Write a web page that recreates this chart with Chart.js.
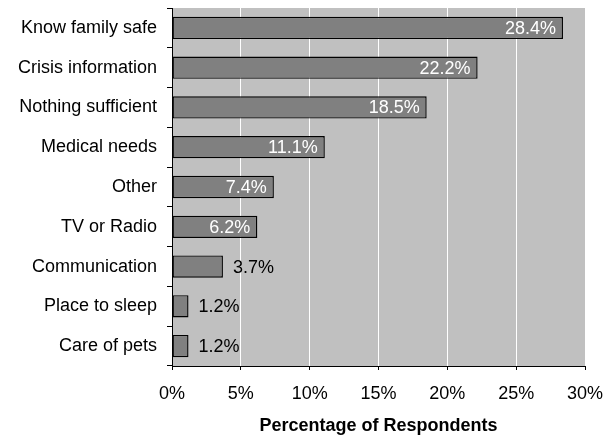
<!DOCTYPE html>
<html>
<head>
<meta charset="utf-8">
<script src="https://cdn.jsdelivr.net/npm/chart.js@4"></script>
<style>
  html, body { margin: 0; padding: 0; background: #fff; }
  #wrap { width: 603px; height: 437px; }
</style>
</head>
<body>
<div id="wrap"><canvas id="c" width="603" height="437"></canvas></div>
<script>
// Responses, largest first
const categories = [
  'Know family safe', 'Crisis information', 'Nothing sufficient',
  'Medical needs', 'Other', 'TV or Radio',
  'Communication', 'Place to sleep', 'Care of pets'
];
const percentages = [28.4, 22.2, 18.5, 11.1, 7.4, 6.2, 3.7, 1.2, 1.2];
const axisMin = 0;
const axisMax = 30;
const axisStep = 5;
const axisTitle = 'Percentage of Respondents';

const FONT = '"Liberation Sans", Arial, sans-serif';
const SIZE = 18;

// Grey plot area behind bars and gridlines
const plotBackground = {
  id: 'plotBackground',
  beforeDraw(chart) {
    const { ctx, chartArea: a } = chart;
    ctx.save();
    ctx.fillStyle = '#C0C0C0';
    ctx.fillRect(a.left, a.top, a.right - a.left, a.bottom - a.top);
    ctx.restore();
  }
};

// Value labels: white inside the bar when it fits, black just past the end otherwise
const valueLabels = {
  id: 'valueLabels',
  afterDatasetsDraw(chart) {
    const { ctx } = chart;
    const meta = chart.getDatasetMeta(0);
    const values = chart.data.datasets[0].data;
    ctx.save();
    ctx.font = SIZE + 'px ' + FONT;
    ctx.textBaseline = 'middle';
    meta.data.forEach((bar, i) => {
      const text = values[i].toFixed(1) + '%';
      const w = ctx.measureText(text).width;
      const barLen = bar.x - bar.base;
      if (barLen > w + 16) {
        ctx.fillStyle = '#fff';
        ctx.textAlign = 'right';
        ctx.fillText(text, bar.x - 7, bar.y + 1);
      } else {
        ctx.fillStyle = '#000';
        ctx.textAlign = 'left';
        ctx.fillText(text, bar.x + 10, bar.y + 1);
      }
    });
    ctx.restore();
  }
};

new Chart(document.getElementById('c'), {
  type: 'bar',
  data: {
    labels: categories,
    datasets: [{
      data: percentages,
      backgroundColor: '#808080',
      borderColor: '#000',
      borderWidth: 1.4,
      borderSkipped: false,
      barPercentage: 0.56,
      categoryPercentage: 1
    }]
  },
  options: {
    indexAxis: 'y',
    responsive: false,
    animation: false,
    devicePixelRatio: 1,
    layout: { padding: { top: 8, right: 18, bottom: 0, left: 0 } },
    plugins: {
      legend: { display: false },
      tooltip: { enabled: false }
    },
    scales: {
      x: {
        min: axisMin,
        max: axisMax,
        afterFit(scale) {
          scale.height = 71;
          scale.paddingLeft = 0;
          scale.paddingRight = 0;
        },
        ticks: {
          stepSize: axisStep,
          color: '#000',
          padding: 13,
          maxRotation: 0,
          font: { family: FONT, size: SIZE },
          callback: v => v + '%'
        },
        grid: {
          color: ctx => (ctx.tick && (ctx.tick.value === axisMin || ctx.tick.value === axisMax)) ? 'rgba(0,0,0,0)' : '#fff',
          tickColor: '#000',
          tickLength: 4,
          lineWidth: 1
        },
        border: { color: '#000', width: 1 },
        title: {
          display: true,
          text: axisTitle,
          color: '#000',
          padding: { top: 0, bottom: 0 },
          font: { family: FONT, size: SIZE, weight: 'bold' }
        }
      },
      y: {
        afterFit(scale) {
          scale.width = 172;
          scale.paddingTop = 0;
          scale.paddingBottom = 0;
        },
        ticks: {
          color: '#000',
          padding: 10,
          font: { family: FONT, size: SIZE }
        },
        grid: {
          drawOnChartArea: false,
          drawTicks: true,
          tickLength: 5,
          offset: true,
          color: '#000',
          tickColor: '#000'
        },
        border: { color: '#000', width: 1 }
      }
    }
  },
  plugins: [plotBackground, valueLabels]
});
</script>
</body>
</html>
